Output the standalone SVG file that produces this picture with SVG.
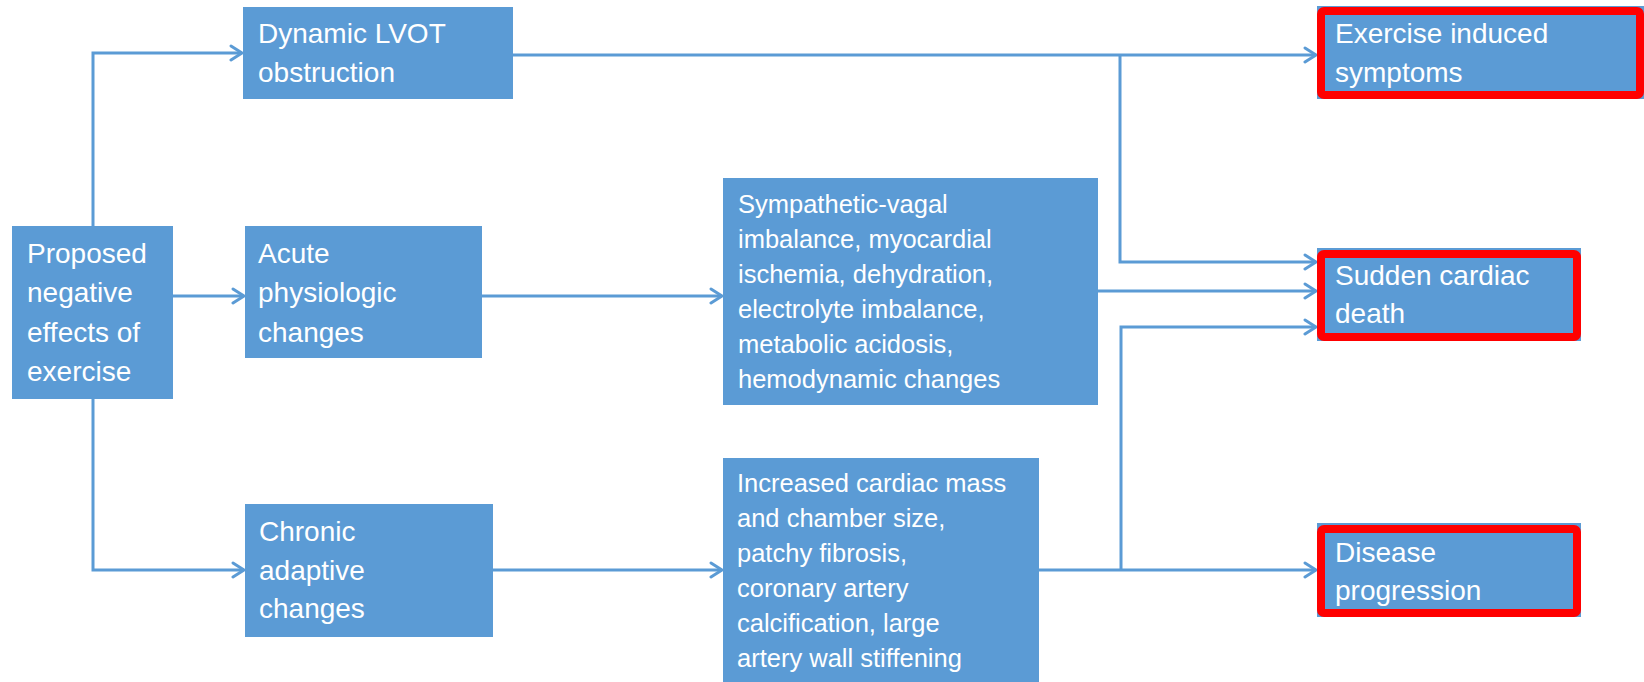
<svg xmlns="http://www.w3.org/2000/svg" width="1644" height="682" viewBox="0 0 1644 682">
<style>
.box{fill:#5B9BD5}
.hl{fill:none;stroke:#FF0000;stroke-width:8}
.t{font-family:"Liberation Sans",Arial,sans-serif;font-size:28px;fill:#FFFFFF}
.s{font-family:"Liberation Sans",Arial,sans-serif;font-size:25.5px;fill:#FFFFFF}
.c{fill:none;stroke:#5B9BD5;stroke-width:3}
</style>
<defs>
<marker id="arr" markerUnits="userSpaceOnUse" markerWidth="16" markerHeight="18" viewBox="0 0 16 18" refX="13" refY="9" orient="auto">
<path d="M2,2 L13,9 L2,16" fill="none" stroke="#5B9BD5" stroke-width="3" stroke-linecap="round" stroke-linejoin="round"/>
</marker>
</defs>
<rect width="1644" height="682" fill="#FFFFFF"/>
<g id="connectors">
<path class="c" d="M93,226 V53 H242" marker-end="url(#arr)"/>
<path class="c" d="M173,296 H244" marker-end="url(#arr)"/>
<path class="c" d="M93,399 V570 H244" marker-end="url(#arr)"/>
<path class="c" d="M482,296 H722" marker-end="url(#arr)"/>
<path class="c" d="M493,570 H722" marker-end="url(#arr)"/>
<path class="c" d="M513,55 H1316" marker-end="url(#arr)"/>
<path class="c" d="M1120,55 V262 H1316" marker-end="url(#arr)"/>
<path class="c" d="M1098,291 H1316" marker-end="url(#arr)"/>
<path class="c" d="M1039,570 H1316" marker-end="url(#arr)"/>
<path class="c" d="M1121,570 V327 H1316" marker-end="url(#arr)"/>
</g>
<g id="proposed">
<rect class="box" x="12" y="226" width="161" height="173"/>
<text class="t" x="27" y="263">Proposed</text>
<text class="t" x="27" y="302">negative</text>
<text class="t" x="27" y="342">effects of</text>
<text class="t" x="27" y="381">exercise</text>
</g>
<g id="lvot">
<rect class="box" x="243" y="7" width="270" height="92"/>
<text class="t" x="258" y="43">Dynamic LVOT</text>
<text class="t" x="258" y="82">obstruction</text>
</g>
<g id="acute">
<rect class="box" x="245" y="226" width="237" height="132"/>
<text class="t" x="258" y="263">Acute</text>
<text class="t" x="258" y="302">physiologic</text>
<text class="t" x="258" y="342">changes</text>
</g>
<g id="chronic">
<rect class="box" x="245" y="504" width="248" height="133"/>
<text class="t" x="259" y="541">Chronic</text>
<text class="t" x="259" y="580">adaptive</text>
<text class="t" x="259" y="618">changes</text>
</g>
<g id="sympathetic">
<rect class="box" x="723" y="178" width="375" height="227"/>
<text class="s" x="738" y="213">Sympathetic-vagal</text>
<text class="s" x="738" y="248">imbalance, myocardial</text>
<text class="s" x="738" y="283">ischemia, dehydration,</text>
<text class="s" x="738" y="318">electrolyte imbalance,</text>
<text class="s" x="738" y="353">metabolic acidosis,</text>
<text class="s" x="738" y="388">hemodynamic changes</text>
</g>
<g id="increased">
<rect class="box" x="723" y="458" width="316" height="224"/>
<text class="s" x="737" y="492">Increased cardiac mass</text>
<text class="s" x="737" y="527">and chamber size,</text>
<text class="s" x="737" y="562">patchy fibrosis,</text>
<text class="s" x="737" y="597">coronary artery</text>
<text class="s" x="737" y="632">calcification, large</text>
<text class="s" x="737" y="667">artery wall stiffening</text>
</g>
<g id="exercise-symptoms">
<rect class="box" x="1317" y="6" width="327" height="93"/>
<rect class="hl" x="1321" y="11" width="319" height="84" rx="3"/>
<text class="t" x="1335" y="43">Exercise induced</text>
<text class="t" x="1335" y="82">symptoms</text>
</g>
<g id="sudden-death">
<rect class="box" x="1317" y="248" width="264" height="93"/>
<rect class="hl" x="1321" y="254" width="256" height="83" rx="3"/>
<text class="t" x="1335" y="285">Sudden cardiac</text>
<text class="t" x="1335" y="323">death</text>
</g>
<g id="disease-progression">
<rect class="box" x="1317" y="523" width="264" height="94"/>
<rect class="hl" x="1321" y="529" width="256" height="84" rx="3"/>
<text class="t" x="1335" y="562">Disease</text>
<text class="t" x="1335" y="600">progression</text>
</g>
</svg>
